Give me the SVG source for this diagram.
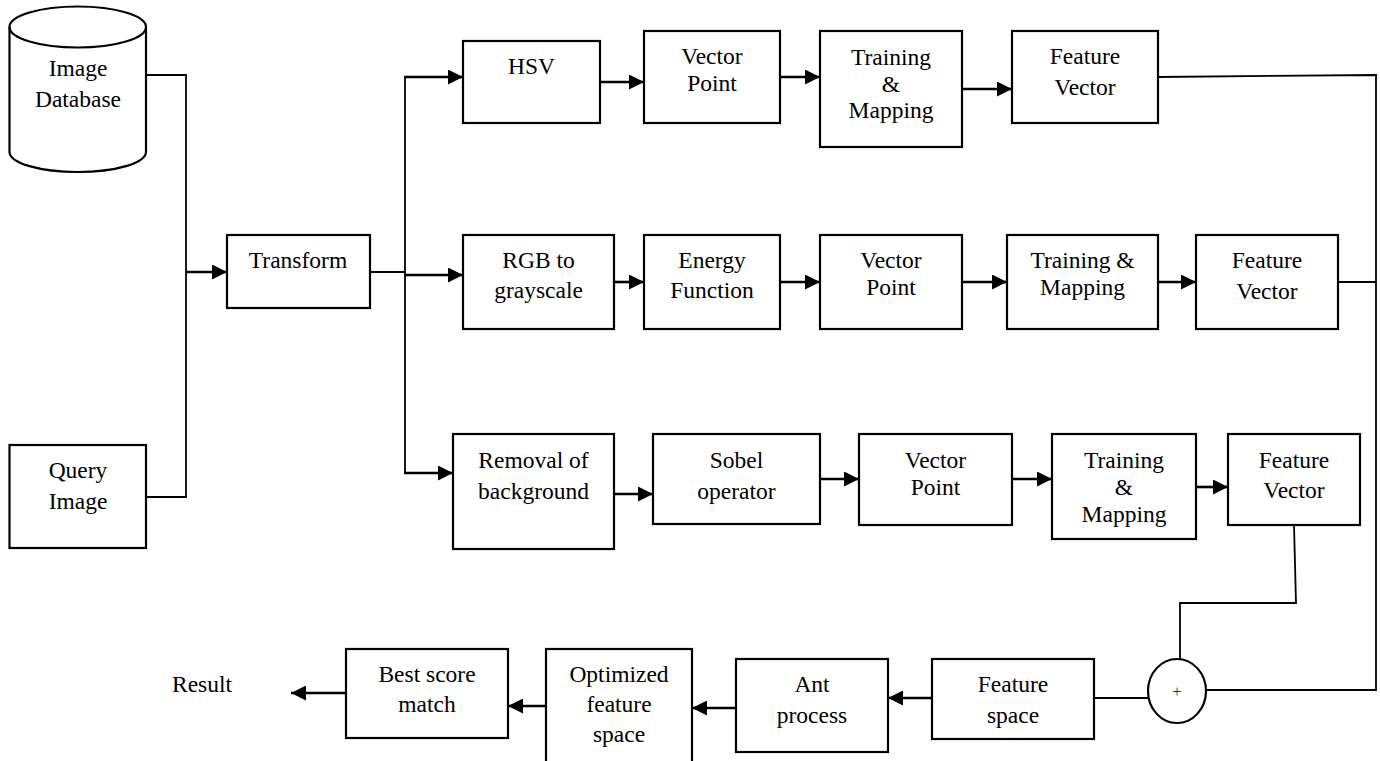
<svg xmlns="http://www.w3.org/2000/svg" width="1380" height="761" viewBox="0 0 1380 761">
<defs>
<marker id="ah" markerUnits="userSpaceOnUse" markerWidth="16" markerHeight="15" refX="15" refY="7.5" orient="auto">
<path d="M0,0 L15,7.5 L0,15 z" fill="#000"/>
</marker>
<style>
.box{fill:#fff;stroke:#000;stroke-width:2.2}
.t{font-family:"Liberation Serif","Times New Roman",serif;font-size:23.5px;fill:#000;text-anchor:middle}
.ln{fill:none;stroke:#000;stroke-width:1.8}
.ar{fill:none;stroke:#000;stroke-width:2.6;marker-end:url(#ah)}
</style>
</defs>
<rect width="1380" height="761" fill="#fff"/>

<g id="connectors">
<polyline class="ln" points="146,75 186,75 186,497 146,497"/>
<line class="ar" x1="186" y1="272" x2="227" y2="272"/>
<line class="ln" x1="370" y1="272" x2="405" y2="272"/>
<line class="ln" x1="405" y1="76" x2="405" y2="474"/>
<line class="ar" x1="404" y1="77" x2="463" y2="77"/>
<line class="ar" x1="404" y1="275" x2="463" y2="275"/>
<line class="ar" x1="404" y1="473" x2="453" y2="473"/>
<line class="ar" x1="600" y1="82" x2="644" y2="82"/>
<line class="ar" x1="780" y1="77" x2="820" y2="77"/>
<line class="ar" x1="962" y1="89" x2="1012" y2="89"/>
<line class="ar" x1="614" y1="282" x2="644" y2="282"/>
<line class="ar" x1="780" y1="282" x2="820" y2="282"/>
<line class="ar" x1="962" y1="282" x2="1007" y2="282"/>
<line class="ar" x1="1158" y1="282" x2="1196" y2="282"/>
<line class="ar" x1="614" y1="494" x2="653" y2="494"/>
<line class="ar" x1="820" y1="479" x2="859" y2="479"/>
<line class="ar" x1="1012" y1="479" x2="1052" y2="479"/>
<line class="ar" x1="1196" y1="487" x2="1228" y2="487"/>
<polyline class="ln" points="1158,77 1376,75 1376,690 1206,690"/>
<line class="ln" x1="1338" y1="282" x2="1376" y2="282"/>
<polyline class="ln" points="1294,525 1296,603 1180,603 1180,659"/>
<line class="ln" x1="1094" y1="698" x2="1148" y2="698"/>
<line class="ar" x1="932" y1="698" x2="888" y2="698"/>
<line class="ar" x1="736" y1="708" x2="692" y2="708"/>
<line class="ar" x1="546" y1="706" x2="508" y2="706"/>
<line class="ar" x1="346" y1="693" x2="291" y2="693"/>
</g>

<g id="image-database">
<path class="box" d="M9.5,27 L9.5,152 A68.25,20 0 0 0 146,152 L146,27 A68.25,20.5 0 0 0 9.5,27 Z"/>
<path class="box" style="fill:none" d="M9.5,27 A68.25,20.5 0 0 0 146,27"/>
<text class="t" x="78" y="76">Image</text>
<text class="t" x="78" y="107">Database</text>
</g>

<g id="query-image">
<rect class="box" x="9.5" y="445" width="136.5" height="103"/>
<text class="t" x="78" y="478">Query</text>
<text class="t" x="78" y="509">Image</text>
</g>

<g id="transform">
<rect class="box" x="227" y="235" width="143" height="73"/>
<text class="t" x="298" y="268">Transform</text>
</g>

<g id="hsv">
<rect class="box" x="463" y="41" width="137" height="82"/>
<text class="t" x="531.5" y="74">HSV</text>
</g>
<g id="vector-point-1">
<rect class="box" x="644" y="31" width="136" height="92"/>
<text class="t" x="712" y="64">Vector</text>
<text class="t" x="712" y="91">Point</text>
</g>
<g id="training-mapping-1">
<rect class="box" x="820" y="31" width="142" height="116"/>
<text class="t" x="891" y="65">Training</text>
<text class="t" x="891" y="92">&amp;</text>
<text class="t" x="891" y="118">Mapping</text>
</g>
<g id="feature-vector-1">
<rect class="box" x="1012" y="31" width="146" height="92"/>
<text class="t" x="1085" y="64">Feature</text>
<text class="t" x="1085" y="95">Vector</text>
</g>

<g id="rgb-grayscale">
<rect class="box" x="463" y="235" width="151" height="94"/>
<text class="t" x="538.5" y="268">RGB to</text>
<text class="t" x="538.5" y="298">grayscale</text>
</g>
<g id="energy-function">
<rect class="box" x="644" y="235" width="136" height="94"/>
<text class="t" x="712" y="268">Energy</text>
<text class="t" x="712" y="298">Function</text>
</g>
<g id="vector-point-2">
<rect class="box" x="820" y="235" width="142" height="94"/>
<text class="t" x="891" y="268">Vector</text>
<text class="t" x="891" y="295">Point</text>
</g>
<g id="training-mapping-2">
<rect class="box" x="1007" y="235" width="151" height="94"/>
<text class="t" x="1082.5" y="268">Training &amp;</text>
<text class="t" x="1082.5" y="295">Mapping</text>
</g>
<g id="feature-vector-2">
<rect class="box" x="1196" y="235" width="142" height="94"/>
<text class="t" x="1267" y="268">Feature</text>
<text class="t" x="1267" y="299">Vector</text>
</g>

<g id="removal-background">
<rect class="box" x="453" y="434" width="161" height="115"/>
<text class="t" x="533.5" y="468">Removal of</text>
<text class="t" x="533.5" y="499">background</text>
</g>
<g id="sobel-operator">
<rect class="box" x="653" y="434" width="167" height="90"/>
<text class="t" x="736.5" y="468">Sobel</text>
<text class="t" x="736.5" y="499">operator</text>
</g>
<g id="vector-point-3">
<rect class="box" x="859" y="434" width="153" height="91"/>
<text class="t" x="935.5" y="468">Vector</text>
<text class="t" x="935.5" y="495">Point</text>
</g>
<g id="training-mapping-3">
<rect class="box" x="1052" y="434" width="144" height="105"/>
<text class="t" x="1124" y="468">Training</text>
<text class="t" x="1124" y="495">&amp;</text>
<text class="t" x="1124" y="522">Mapping</text>
</g>
<g id="feature-vector-3">
<rect class="box" x="1228" y="434" width="132" height="91"/>
<text class="t" x="1294" y="468">Feature</text>
<text class="t" x="1294" y="498">Vector</text>
</g>

<g id="sum">
<ellipse class="box" cx="1177" cy="691" rx="29" ry="32"/>
<text x="1177" y="697" style="font-family:'Liberation Serif',serif;font-size:17px;fill:#333;text-anchor:middle">+</text>
</g>
<g id="feature-space">
<rect class="box" x="932" y="659" width="162" height="80"/>
<text class="t" x="1013" y="692">Feature</text>
<text class="t" x="1013" y="723">space</text>
</g>
<g id="ant-process">
<rect class="box" x="736" y="659" width="152" height="93"/>
<text class="t" x="812" y="692">Ant</text>
<text class="t" x="812" y="723">process</text>
</g>
<g id="optimized-feature-space">
<rect class="box" x="546" y="649" width="146" height="122"/>
<text class="t" x="619" y="682">Optimized</text>
<text class="t" x="619" y="712">feature</text>
<text class="t" x="619" y="742">space</text>
</g>
<g id="best-score-match">
<rect class="box" x="346" y="649" width="162" height="89"/>
<text class="t" x="427" y="682">Best score</text>
<text class="t" x="427" y="712">match</text>
</g>
<g id="result">
<text class="t" x="202" y="692">Result</text>
</g>
</svg>
